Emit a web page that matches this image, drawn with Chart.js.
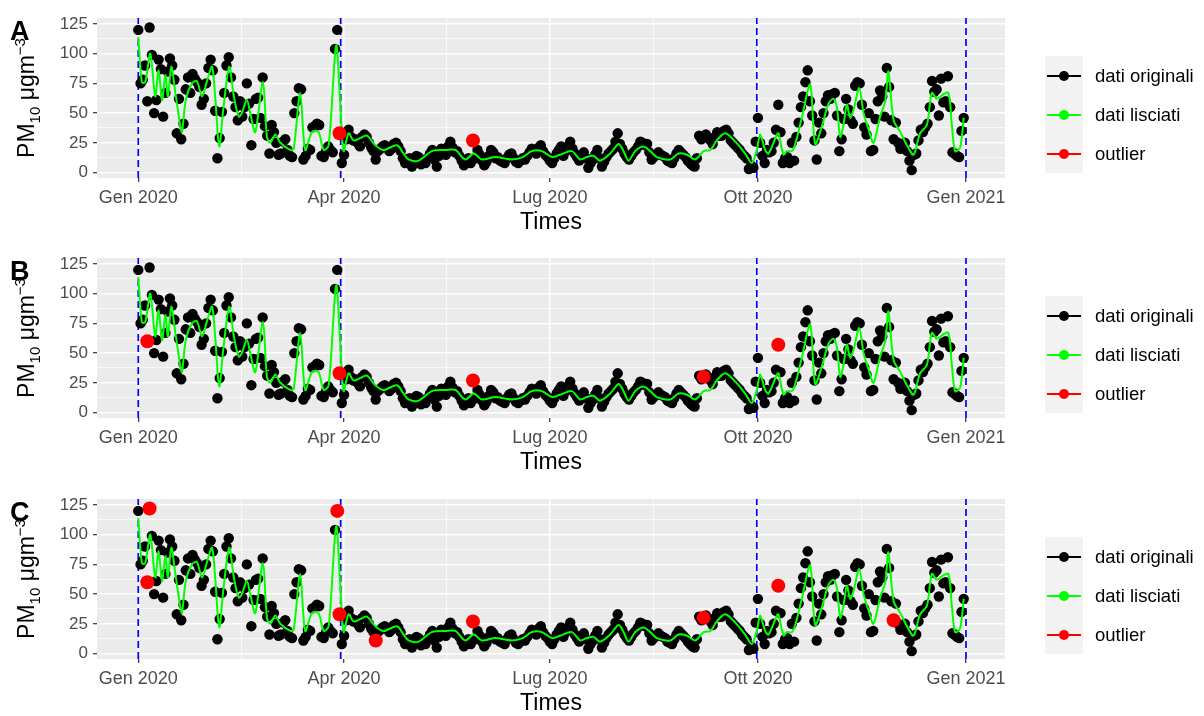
<!DOCTYPE html>
<html>
<head>
<meta charset="utf-8">
<script src="https://cdn.jsdelivr.net/npm/chart.js@4"></script>
<style>
body{margin:0;background:#fff;font-family:"Liberation Sans",Arial,Helvetica,sans-serif;}
#wrap{position:relative;width:1204px;height:716px;overflow:hidden}
.panel{position:absolute;left:0;width:1204px;height:240px}
.panel canvas{position:absolute;left:0;top:0}
.tag{position:absolute;left:10px;top:18px;font-weight:bold;font-size:27px;line-height:1;color:#000}
.ytitle{position:absolute;left:27px;top:98px;transform:translate(-50%,-50%) rotate(-90deg);font-size:23px;white-space:nowrap;color:#000}
.ytitle sub,.ytitle sup{font-size:15px}
.legend{position:absolute;left:1045px;top:56px}
.keys{position:absolute;left:0;top:0;width:38px;height:117px;background:#F2F2F2}
.item{position:absolute;left:0;height:39px;width:160px}
.item .ln{position:absolute;left:2px;top:18.5px;width:34px;height:2px}
.item .dt{position:absolute;left:14px;top:14.5px;width:10px;height:10px;border-radius:50%}
.item span{position:absolute;left:50px;top:0;line-height:39px;font-size:18.5px;color:#000;white-space:nowrap}
</style>
</head>
<body>
<div id="wrap"></div>
<script>
// valori giornalieri PM10 (giorno 0 = 1 gen 2020)
const dayValues = [
	120, 75, 78, 90, 60, 122, 99, 50, 61, 95,
	87, 47, 67, 85, 96, 90, 78, 33, 62, 28,
	41, 70, 80, 67, 83, 79, 76, 72, 57, 62,
	75, 88, 95, 86, 52, 12, 29, 51, 67, 90,
	97, 80, 64, 55, 44, 60, 47, 55, 75, 58,
	23, 45, 62, 63, 46, 80, 39, 31, 16, 40,
	34, 25, 15, 16, 26, 28, 19, 14, 13, 50,
	60, 71, 70, 11, 14, 20, 19, 38, 39, 41,
	40, 14, 13, 18, 22, 19, 17, 104, 120, 33,
	8, 15, 28, 36, 30, 27, 28, 25, 22, 30,
	32, 30, 25, 21, 18, 11, 18, 20, 22, 23,
	21, 18, 20, 24, 25, 22, 18, 12, 8, 9,
	12, 5, 10, 14, 13, 7, 10, 8, 12, 16,
	19, 11, 5, 14, 20, 18, 15, 22, 26, 21,
	17, 18, 14, 10, 6, 9, 12, 8, 27, 12,
	19, 15, 10, 6, 9, 14, 19, 17, 12, 13,
	10, 9, 8, 12, 15, 16, 12, 9, 8, 10,
	12, 11, 14, 17, 20, 18, 16, 21, 23, 18,
	15, 13, 10, 8, 12, 16, 19, 22, 14, 18,
	22, 26, 20, 16, 13, 10, 14, 17, 12, 4,
	8, 11, 15, 19, 12, 5, 9, 13, 16, 18,
	20, 26, 33, 24, 20, 16, 13, 11, 14, 17,
	19, 22, 26, 25, 23, 24, 17, 11, 13, 15,
	17, 15, 14, 13, 10, 9, 8, 12, 16, 19,
	17, 15, 13, 10, 8, 6, 5, 12, 31, 28,
	30, 32, 29, 27, 24, 30, 34, 31, 31, 35,
	36, 33, 27, 25, 23, 21, 19, 16, 14, 12,
	3, 6, 4, 26, 46, 25, 14, 8, 19, 17,
	18, 25, 36, 57, 34, 8, 12, 13, 8, 25,
	10, 30, 42, 55, 64, 76, 86, 60, 48, 27,
	11, 42, 33, 50, 60, 65, 62, 66, 67, 48,
	18, 28, 45, 62, 53, 44, 41, 73, 76, 75,
	57, 38, 32, 50, 18, 19, 45, 60, 69, 64,
	47, 88, 72, 44, 28, 42, 25, 20, 22, 25,
	18, 10, 2, 15, 16, 27, 36, 34, 38, 41,
	55, 77, 68, 70, 48, 79, 59, 60, 81, 55,
	17, 16, 14, 13, 35, 46
];

// dati lisciati
const smoothDays = [0,1.6,3.1,5.3,7.5,9,10.5,12,13.1,14.6,16.4,18.6,19.3,21.1,23.7,25.9,28.2,30.4,32.6,34,35.8,37.7,40.2,42.2,44.4,45.8,48,49.5,51.7,55.1,56.9,58.4,60.6,62.8,67.2,68.7,71.6,73.8,76.8,79.7,82,84.2,87.5,89.6,90.8,93,95.2,98.2,101.1,104.8,108.5,114.4,117.3,119.5,124,129.8,135.7,140.2,144.6,148.3,151.9,157.9,165.2,170,174,178.5,182.9,186.6,191.7,195.4,198.3,201.3,204.2,208.7,212.4,214.6,216.8,219.7,223.4,226.4,229.3,235.2,238.9,242.6,246.3,250,253,255.8,259.5,264,268.3,271.3,273.5,275,277.2,278.7,282.4,283.1,285.3,286.8,289,290.5,293.5,297.1,299.3,302.3,305.2,307.4,308.9,310.4,311.9,313.3,314.8,316.3,318.8,320.7,323,325.1,328,330.3,331.7,334,337,339.9,342.8,345.7,348.7,350.9,353.1,355.3,358.2,359.7,361.2,363.4,365];
const smoothValues = [114,76,76,100,64,86,61,82,64,89,67,39,34,62,75,77,64,77,89,64,22,55,89,65,47,50,61,50,34,76,30,25,32,25,19,20,67,19,34,34,19,23,107,47,18,33,27,29,31,23,19,23,16,11,10,18,19,19,11,16,11,13,11,13,18,18,13,15,18,11,13,14,10,16,24,18,10,18,22,18,13,11,16,15,11,18,19,27,33,26,16,8,19,32,19,16,32,33,15,18,18,24,47,74,24,39,58,62,55,30,41,57,46,53,71,50,36,25,47,60,85,44,34,23,15,33,40,67,62,65,67,41,18,21,46];

// outlier per pannello
const outDaysA = [89, 148];
const outValsA = [33, 27];
const outDaysB = [4, 89, 148, 250, 283];
const outValsB = [60, 33, 27, 30, 57];
const outDaysC = [5, 4, 88, 89, 105, 148, 250, 283, 334];
const outValsC = [122, 60, 120, 33, 11, 27, 30, 57, 28];

const tickDays = [0, 91, 182, 274, 366];
const tickLabels = ['Gen 2020', 'Apr 2020', 'Lug 2020', 'Ott 2020', 'Gen 2021'];
const minorDays = [45.5, 136.5, 228, 320];
const yTicks = [0, 25, 50, 75, 100, 125];
const yMinor = [12.5, 37.5, 62.5, 87.5, 112.5];
const cutDays = [0, 89.5, 273.5, 366];

const panelTags = ['A', 'B', 'C'];
const legendLabels = ['dati originali', 'dati lisciati', 'outlier'];
const legendColors = ['#000000', '#00FF00', '#FF0000'];

const xLimits = [-18.25, 383.25];
const yLimits = [-4.6, 130];
const FONT = '"Liberation Sans", Arial, Helvetica, sans-serif';

const panelBg = {
	id: 'panelBg',
	beforeDraw(chart){
		const a = chart.chartArea, c = chart.ctx;
		c.save();
		c.fillStyle = '#EBEBEB';
		c.fillRect(a.left, a.top, a.right - a.left, a.bottom - a.top);
		c.restore();
	}
};

function makePanel(idx, top, outDays, outVals){
	const wrap = document.getElementById('wrap');
	const div = document.createElement('div');
	div.className = 'panel';
	div.style.top = top + 'px';
	let html = '<canvas width="1204" height="240"></canvas>';
	html += '<div class="ytitle">PM<sub>10</sub> μgm<sup>−3</sup></div>';
	html += '<div class="tag">' + panelTags[idx] + '</div>';
	html += '<div class="legend"><div class="keys"></div>';
	legendLabels.forEach((lab, i) => {
		html += '<div class="item" style="top:' + (i * 39) + 'px"><div class="ln" style="background:' + legendColors[i] + '"></div>' +
			'<div class="dt" style="background:' + legendColors[i] + '"></div><span>' + lab + '</span></div>';
	});
	html += '</div>';
	div.innerHTML = html;
	wrap.appendChild(div);

	const ctx = div.querySelector('canvas').getContext('2d');
	const datasets = [];
	datasets.push({
		data: outDays.map((d, i) => ({x: d, y: outVals[i]})),
		pointRadius: 7, pointBackgroundColor: '#FF0000', pointBorderWidth: 0, order: 0
	});
	datasets.push({
		data: smoothDays.map((d, i) => ({x: d, y: smoothValues[i]})),
		showLine: true, fill: false, borderColor: '#00FF00', borderWidth: 2, pointRadius: 0, tension: 0.3, order: 1
	});
	datasets.push({
		data: dayValues.map((v, i) => ({x: i, y: v})),
		pointRadius: 5.2, pointBackgroundColor: '#000000', pointBorderWidth: 0, order: 2
	});
	cutDays.forEach(d => datasets.push({
		data: [{x: d, y: yLimits[0]}, {x: d, y: yLimits[1]}],
		showLine: true, fill: false, borderColor: '#0000FF', borderWidth: 1.7, borderDash: [7, 4], pointRadius: 0, order: 3
	}));

	const isMinorX = c => c.tick && minorDays.indexOf(c.tick.value) >= 0;
	const isMinorY = c => c.tick && yMinor.indexOf(c.tick.value) >= 0;

	new Chart(ctx, {
		type: 'scatter',
		data: { datasets: datasets },
		options: {
			responsive: false,
			animation: false,
			devicePixelRatio: 1,
			layout: { padding: { top: 18, right: 199, left: 0, bottom: 0 } },
			plugins: { legend: { display: false }, tooltip: { enabled: false } },
			scales: {
				x: {
					type: 'linear', min: xLimits[0], max: xLimits[1],
					afterBuildTicks: s => { s.ticks = tickDays.concat(minorDays).sort((a, b) => a - b).map(v => ({value: v})); },
					afterFit: s => { s.height = 62; },
					ticks: {
						autoSkip: false, maxRotation: 0, padding: 5, color: '#4D4D4D',
						font: { size: 18, family: FONT },
						callback: v => { const k = tickDays.indexOf(v); return k < 0 ? '' : tickLabels[k]; }
					},
					grid: {
						color: '#FFFFFF',
						lineWidth: c => isMinorX(c) ? 0.7 : 1.4,
						tickColor: c => isMinorX(c) ? 'rgba(0,0,0,0)' : '#333333',
						tickLength: 4, tickWidth: 1.2
					},
					border: { display: false },
					title: { display: true, text: 'Times', color: '#000000', font: { size: 23, family: FONT }, padding: { top: 0, bottom: 4 } }
				},
				y: {
					type: 'linear', min: yLimits[0], max: yLimits[1],
					afterBuildTicks: s => { s.ticks = yTicks.concat(yMinor).sort((a, b) => a - b).map(v => ({value: v})); },
					afterFit: s => { s.width = 97; },
					ticks: {
						autoSkip: false, padding: 5, color: '#4D4D4D',
						font: { size: 17, family: FONT },
						callback: v => yTicks.indexOf(v) < 0 ? '' : String(v)
					},
					grid: {
						color: '#FFFFFF',
						lineWidth: c => isMinorY(c) ? 0.7 : 1.4,
						tickColor: c => isMinorY(c) ? 'rgba(0,0,0,0)' : '#333333',
						tickLength: 4, tickWidth: 1.2
					},
					border: { display: false }
				}
			}
		},
		plugins: [panelBg]
	});
}

makePanel(0, 0, outDaysA, outValsA);
makePanel(1, 240, outDaysB, outValsB);
makePanel(2, 481, outDaysC, outValsC);
</script>
</body>
</html>
